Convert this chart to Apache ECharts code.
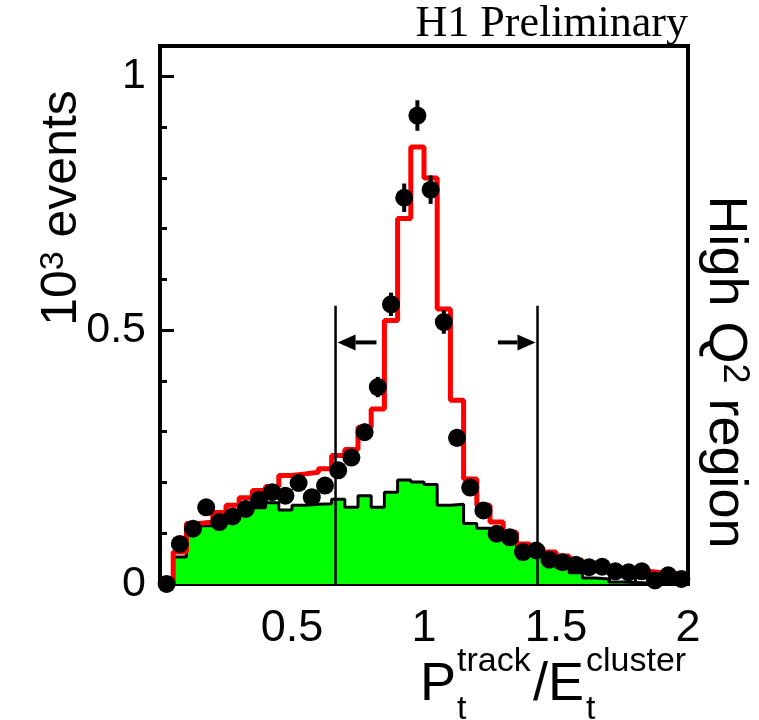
<!DOCTYPE html>
<html><head><meta charset="utf-8">
<script src="https://cdn.jsdelivr.net/npm/echarts@6/dist/echarts.min.js"></script>
<style>html,body{margin:0;padding:0;background:#fff}#c{width:759px;height:720px}</style>
</head><body><div id="c"></div>
<script>
// ---- data ----
const binCenters = [0.025,0.075,0.125,0.175,0.225,0.275,0.325,0.375,0.425,0.475,
  0.525,0.575,0.625,0.675,0.725,0.775,0.825,0.875,0.925,0.975,
  1.025,1.075,1.125,1.175,1.225,1.275,1.325,1.375,1.425,1.475,
  1.525,1.575,1.625,1.675,1.725,1.775,1.825,1.875,1.925,1.975];
const binWidth = 0.05;
const dataValues = [0.000,0.079,0.109,0.151,0.122,0.133,0.148,0.166,0.181,0.174,
  0.199,0.171,0.194,0.224,0.249,0.299,0.388,0.551,0.761,0.923,
  0.777,0.516,0.288,0.190,0.145,0.099,0.092,0.063,0.066,0.048,
  0.043,0.038,0.033,0.034,0.025,0.023,0.025,0.007,0.017,0.010];
const dataErrors = [0.000,0.009,0.010,0.012,0.011,0.012,0.012,0.013,0.013,0.013,
  0.014,0.013,0.014,0.015,0.016,0.017,0.020,0.023,0.028,0.030,
  0.028,0.023,0.017,0.014,0.012,0.010,0.010,0.008,0.008,0.007,
  0.007,0.006,0.006,0.006,0.005,0.005,0.005,0.003,0.004,0.003];
const mcTotal = [0.000,0.063,0.119,0.122,0.141,0.155,0.170,0.184,0.192,0.214,
  0.217,0.220,0.227,0.253,0.265,0.309,0.345,0.519,0.720,0.861,
  0.800,0.542,0.362,0.207,0.155,0.122,0.102,0.079,0.072,0.063,
  0.055,0.047,0.041,0.036,0.031,0.027,0.025,0.022,0.020,0.018];
const mcBackground = [0.000,0.053,0.105,0.115,0.122,0.130,0.143,0.150,0.160,0.146,
  0.155,0.157,0.158,0.167,0.151,0.174,0.151,0.181,0.205,0.201,
  0.196,0.155,0.157,0.119,0.110,0.095,0.085,0.070,0.060,0.046,
  0.032,0.022,0.012,0.010,0.004,0.003,0.002,0.002,0.001,0.001];
const cutPositions = [0.665, 1.43];
const cutTop = 0.548;
const arrowTails = [0.82, 1.28];
const arrowLevel = 0.476;
const xTickLabels = [0.5, 1, 1.5, 2];
const yTickLabels = [0, 0.5, 1];
const yMinorTicks = [0.1,0.2,0.3,0.4,0.6,0.7,0.8,0.9];
const xRange = [0, 2];
const yRange = [0, 1.06];

// ---- build ----
function stepData(vals){
  const d = binCenters.map((c,i)=>[c - binWidth/2, vals[i]]);
  d.push([binCenters[binCenters.length-1] + binWidth/2, vals[vals.length-1]]);
  return d;
}
const FONT = '"Liberation Sans", Arial, Helvetica, sans-serif';
const chart = echarts.init(document.getElementById('c'), null, {renderer:'canvas'});
const tickStyle = {color:'#000', width:3};
const option = {
  animation:false,
  backgroundColor:'#fff',
  grid:{left:160, top:46, width:528, height:538, show:true, borderColor:'#000', borderWidth:4, containLabel:false},
  xAxis:{type:'value', min:xRange[0], max:xRange[1], interval:0.5,
    axisLine:{lineStyle:{color:'#000', width:4}},
    axisTick:{inside:true, length:14, lineStyle:tickStyle},
    minorTick:{show:true, splitNumber:5, length:7, lineStyle:tickStyle},
    splitLine:{show:false},
    axisLabel:{color:'#000', fontSize:45, fontFamily:FONT, margin:22,
      customValues: xTickLabels, formatter:v=>String(v)}},
  yAxis:[{type:'value', min:yRange[0], max:yRange[1], position:'left',
    axisLine:{lineStyle:{color:'#000', width:4}},
    axisTick:{inside:true, length:14, lineStyle:tickStyle, customValues:yTickLabels},
    splitLine:{show:false},
    axisLabel:{color:'#000', fontSize:43, fontFamily:FONT, margin:14, customValues:yTickLabels, formatter:v=>String(v)}},
   {type:'value', min:yRange[0], max:yRange[1], position:'left', offset:0,
    axisLine:{show:false},
    axisTick:{inside:true, length:7, lineStyle:tickStyle, customValues:yMinorTicks},
    splitLine:{show:false}, axisLabel:{show:false}}],
  series:[
    {type:'line', name:'background', step:'end', data:stepData(mcBackground), showSymbol:false, symbol:'none',
      lineStyle:{color:'#000', width:3}, areaStyle:{color:'#00ff00', opacity:1}, z:1},
    {type:'line', name:'total', step:'end', data:stepData(mcTotal), showSymbol:false, symbol:'none',
      lineStyle:{color:'#ff0000', width:5}, z:2},
    {type:'custom', name:'cuts', z:3,
      data: cutPositions.map(x=>[x, cutTop]), encode:{x:0, y:1},
      renderItem:(params, api)=>{
        const a = api.coord([api.value(0), 0]), b = api.coord([api.value(0), api.value(1)]);
        return {type:'line', shape:{x1:a[0], y1:a[1], x2:b[0], y2:b[1]}, style:{stroke:'#000', lineWidth:2.5}};
      }},
    {type:'custom', name:'arrows', z:3,
      data: cutPositions.map((x,i)=>[arrowTails[i], x, arrowLevel]), encode:{x:[0,1], y:2},
      renderItem:(params, api)=>{
        const t = api.coord([api.value(0), api.value(2)]), h = api.coord([api.value(1), api.value(2)]);
        const dir = h[0] > t[0] ? 1 : -1, hl = 20, hw = 8;
        const bx = h[0] - dir*hl;
        return {type:'group', children:[
          {type:'line', shape:{x1:t[0], y1:t[1], x2:bx, y2:t[1]}, style:{stroke:'#000', lineWidth:4}},
          {type:'polygon', shape:{points:[[h[0]-dir*2, h[1]], [bx, h[1]-hw], [bx, h[1]+hw]]}, style:{fill:'#000'}}
        ]};
      }},
    {type:'custom', name:'errors', z:4,
      data: binCenters.map((c,i)=>[c, dataValues[i], dataErrors[i]]), encode:{x:0, y:1},
      renderItem:(params, api)=>{
        const x = api.value(0), y = api.value(1), e = api.value(2);
        const a = api.coord([x, y-e]), b = api.coord([x, y+e]);
        return {type:'line', shape:{x1:a[0], y1:a[1], x2:b[0], y2:b[1]}, style:{stroke:'#000', lineWidth:4}};
      }},
    {type:'scatter', name:'data', z:5, clip:false, symbol:'circle', symbolSize:18,
      itemStyle:{color:'#000', opacity:1}, data: binCenters.map((c,i)=>[c, dataValues[i]])}
  ],
  graphic:[
    {type:'text', x:688, y:24, style:{text:'H1 Preliminary', font:'44px "Liberation Serif", "Times New Roman", serif', fill:'#000', align:'right', verticalAlign:'middle'}},
    {type:'text', x:62, y:208, rotation:Math.PI/2, style:{text:'{a|10}{s|3}{a| events}', align:'center', verticalAlign:'middle',
      rich:{a:{fontSize:50, fontFamily:FONT, fill:'#000'}, s:{fontSize:34, fontFamily:FONT, fill:'#000', verticalAlign:'top'}}}},
    {type:'text', x:725, y:372, rotation:-Math.PI/2, style:{text:'{a|High Q}{s|2}{a| region}', align:'center', verticalAlign:'middle',
      rich:{a:{fontSize:54, fontFamily:FONT, fill:'#000'}, s:{fontSize:36, fontFamily:FONT, fill:'#000', verticalAlign:'top'}}}},
    {type:'text', x:420, y:685, style:{text:'P', font:'54px '+FONT, fill:'#000', align:'left', verticalAlign:'middle'}},
    {type:'text', x:457, y:662, style:{text:'track', font:'34px '+FONT, fill:'#000', align:'left', verticalAlign:'middle'}},
    {type:'text', x:457, y:710, style:{text:'t', font:'34px '+FONT, fill:'#000', align:'left', verticalAlign:'middle'}},
    {type:'text', x:533, y:685, style:{text:'/E', font:'54px '+FONT, fill:'#000', align:'left', verticalAlign:'middle'}},
    {type:'text', x:586, y:662, style:{text:'cluster', font:'34px '+FONT, fill:'#000', align:'left', verticalAlign:'middle'}},
    {type:'text', x:586, y:710, style:{text:'t', font:'34px '+FONT, fill:'#000', align:'left', verticalAlign:'middle'}}
  ]
};
chart.setOption(option);
</script>
</body></html>
